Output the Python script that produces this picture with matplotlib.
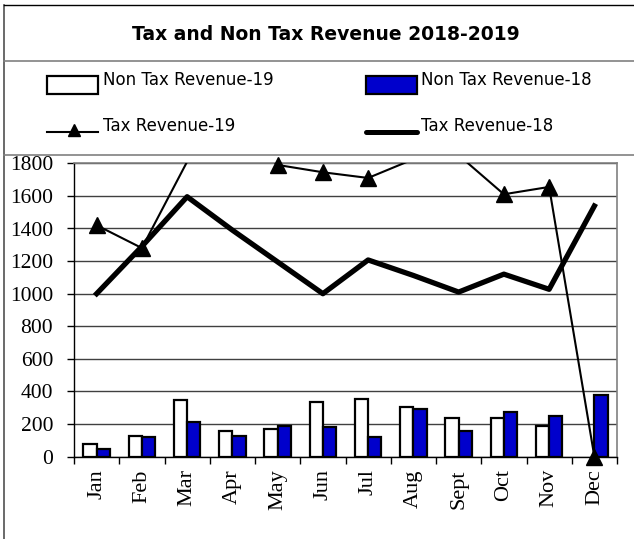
import numpy as np
import matplotlib
matplotlib.use("Agg")
import matplotlib.pyplot as plt
from matplotlib.lines import Line2D
from matplotlib.patches import Rectangle

months = ["Jan", "Feb", "Mar", "Apr", "May", "Jun", "Jul", "Aug", "Sept", "Oct", "Nov", "Dec"]
non_tax_19 = [75, 130, 345, 158, 171, 335, 353, 305, 238, 235, 187, np.nan]
non_tax_18 = [49, 120, 215, 126, 187, 183, 120, 290, 158, 276, 248, 376]
tax_19 = [1420, 1280, 1810, 2050, 1790, 1745, 1710, 1825, 1850, 1610, 1655, 0]
tax_18 = [1000, 1290, 1595, 1390, 1195, 1000, 1207, 1112, 1010, 1120, 1027, 1538]
y_ticks = [0, 200, 400, 600, 800, 1000, 1200, 1400, 1600, 1800]

W, H = 634, 539
BLUE = "#0000CC"


def fx(x):
    return x / W


def fy(y):
    return 1 - y / H


fig = plt.figure(figsize=(W / 100, H / 100), dpi=100)

# frame, title box and legend box
fig.add_artist(Line2D([fx(4), fx(4)], [fy(5), fy(539)], color="#505050", lw=1.2))
fig.add_artist(Line2D([fx(4), fx(634)], [fy(5), fy(5)], color="black", lw=1.0))
fig.add_artist(Line2D([fx(4), fx(634)], [fy(61), fy(61)], color="#808080", lw=1.2))
fig.add_artist(Line2D([fx(4), fx(634)], [fy(155), fy(155)], color="#808080", lw=1.2))

fig.text(fx(326), fy(34), "Tax and Non Tax Revenue 2018-2019", ha="center", va="center",
         fontsize=13.5, fontweight="bold", family="DejaVu Sans")

# legend
leg_font = dict(fontsize=12, family="DejaVu Sans", va="center", ha="left")
fig.add_artist(Rectangle((fx(47), fy(94)), fx(51), 18 / H, facecolor="white",
                         edgecolor="black", lw=1.6))
fig.text(fx(103), fy(80), "Non Tax Revenue-19", **leg_font)
fig.add_artist(Rectangle((fx(366), fy(94)), fx(51), 18 / H, facecolor=BLUE,
                         edgecolor="black", lw=1.6))
fig.text(fx(421), fy(80), "Non Tax Revenue-18", **leg_font)
fig.add_artist(Line2D([fx(47), fx(98)], [fy(132), fy(132)], color="black", lw=1.5))
fig.add_artist(Line2D([fx(74)], [fy(130)], color="black", marker="^", markersize=8, lw=0))
fig.text(fx(103), fy(126), "Tax Revenue-19", **leg_font)
fig.add_artist(Line2D([fx(366), fx(417)], [fy(132), fy(132)], color="black", lw=3.6,
                      solid_capstyle="round"))
fig.text(fx(421), fy(126), "Tax Revenue-18", **leg_font)

# plot area
ax = fig.add_axes([fx(74), fy(456.7), fx(617 - 74), (456.7 - 163.3) / H])
x = np.arange(len(months))
bw = 0.295
ax.bar(x - bw / 2, non_tax_19, bw, color="white", edgecolor="black", linewidth=1.6, zorder=2)
ax.bar(x + bw / 2, non_tax_18, bw, color=BLUE, edgecolor="black", linewidth=1.6, zorder=2)

ax.plot(x, tax_18, color="black", lw=3.8, zorder=3)
ax.plot(x, tax_19, color="black", lw=1.5, zorder=4)
t19 = np.array(tax_19, dtype=float)
t19_vis = np.where(t19 <= 1800, t19, np.nan)
ax.plot(x, t19_vis, ls="none", marker="^", color="black", markersize=12,
        clip_on=False, zorder=5)

ax.set_xlim(-0.5, len(months) - 0.5)
ax.set_ylim(0, 1800)
ax.set_yticks(y_ticks)
ax.set_yticklabels([str(v) for v in y_ticks], family="Liberation Serif", fontsize=15.5)
ax.set_xticks(x)
ax.set_xticklabels(months, rotation=90, family="Liberation Serif", fontsize=16)
ax.set_xticks(np.arange(len(months) + 1) - 0.5, minor=True)
ax.tick_params(axis="x", which="major", length=0, pad=9)
ax.tick_params(axis="x", which="minor", length=5, width=1.0, direction="out")
ax.tick_params(axis="y", length=5, width=1.0, direction="out", pad=10)

ax.grid(axis="y", color="#404040", lw=1.0, zorder=0)
ax.set_axisbelow(True)
for side in ["top", "right"]:
    ax.spines[side].set_color("#808080")
    ax.spines[side].set_linewidth(1.2)
for side in ["left", "bottom"]:
    ax.spines[side].set_color("black")
    ax.spines[side].set_linewidth(1.0)

fig.savefig("out.png", dpi=100)
